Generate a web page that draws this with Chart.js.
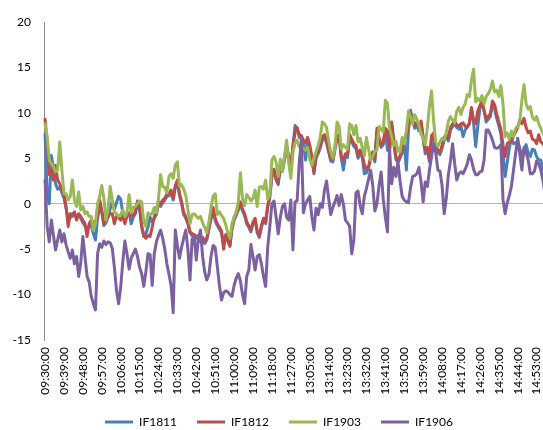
<!DOCTYPE html>
<html><head><meta charset="utf-8">
<script src="https://cdn.jsdelivr.net/npm/chart.js@4.4.0/dist/chart.umd.min.js"></script>
<style>
html,body{margin:0;padding:0;background:#fff;overflow:hidden;width:543px;height:430px;}
#wrap{position:absolute;left:0;top:0;width:558px;height:438px;}
</style></head><body>
<div id="wrap"><canvas id="c" width="558" height="438"></canvas></div>
<script>
const seriesNames = ['IF1811', 'IF1812', 'IF1903', 'IF1906'];
const seriesColors = ['#4A7EBB', '#BE4B48', '#98B954', '#7D60A0'];
const yMin = -15, yMax = 20, yStep = 5;
const labelEvery = 9;
const sessions = [['09:30', '11:30'], ['13:00', '15:00']];

function buildTimes() {
  const out = [];
  for (const [a, b] of sessions) {
    let [h, m] = a.split(':').map(Number);
    const [eh, em] = b.split(':').map(Number);
    while (h * 60 + m <= eh * 60 + em) {
      out.push(String(h).padStart(2, '0') + ':' + String(m).padStart(2, '0') + ':00');
      m++; if (m === 60) { m = 0; h++; }
    }
  }
  return out;
}
const times = buildTimes();

const if1811 = [
 7.7, 1.0, 0.0, 5.3, 3.9, 2.2, 1.6, 1.8, 1.2, 0.6,
 -0.5, -1.8, -1.5, -1.4, -1.1, -1.6, -1.2, -1.6, -2.1, -2.4,
 -2.8, -2.5, -2.4, -3.3, -4.0, -1.6, -0.3, -0.9, -2.4, -2.1,
 -1.5, -0.6, 0.3, -0.6, 0.1, 0.8, 0.5, -1.0, -1.8, -1.3,
 -1.0, -2.2, -1.5, -1.1, 0.0, -0.6, -2.6, -3.6, -3.3, -2.6,
 -1.5, -2.0, -1.6, -1.2, 0.0, -0.3, 0.1, 0.4, 0.8, 0.9,
 1.2, 0.4, 1.8, 2.4, 0.9, 0.0, -1.2, -1.6, -2.2, -3.2,
 -3.5, -3.6, -3.8, -3.7, -4.2, -3.9, -4.4, -4.0, -2.8, -1.7,
 -0.7, -1.9, -2.4, -2.8, -3.2, -4.6, -3.6, -4.1, -4.7, -2.8,
 -1.8, -1.3, -0.7, 0.0, -0.8, -1.3, -2.2, -2.6, -3.1, -2.2,
 -1.8, -3.2, -3.7, -2.6, -1.8, -2.2, -0.4, 0.7, 3.0, 3.6,
 2.6, 2.1, 4.0, 3.6, 4.8, 6.3, 4.8, 4.0, 6.2, 8.6,
 8.3, 7.3, 7.2, 6.6, 4.8, 7.0, 6.2, 5.0, 3.3, 5.0,
 5.5, 6.1, 7.0, 7.3, 6.7, 5.7, 4.7, 4.6, 5.9, 7.2,
 7.3, 5.0, 3.7, 5.2, 5.1, 7.3, 6.8, 6.3, 6.1, 5.0,
 5.6, 5.1, 3.3, 3.4, 3.9, 4.9, 5.4, 4.6, 8.0, 7.0,
 6.2, 6.5, 8.0, 5.9, 5.7, 8.7, 6.7, 4.9, 4.5, 5.0,
 5.6, 6.6, 3.7, 8.1, 10.3, 9.1, 8.3, 8.7, 8.0, 8.8,
 7.1, 5.5, 5.9, 4.6, 7.2, 7.5, 6.0, 5.6, 5.4, 6.1,
 7.0, 7.3, 6.9, 8.1, 8.5, 8.8, 8.4, 8.2, 8.5, 7.4,
 8.1, 8.5, 8.8, 10.4, 8.9, 6.3, 8.5, 10.5, 11.0, 10.2,
 9.0, 9.3, 9.6, 11.0, 10.4, 9.4, 8.6, 7.7, 5.5, 3.0,
 4.5, 6.1, 7.2, 6.6, 6.7, 6.9, 6.1, 5.2, 5.9, 6.5,
 5.6, 5.2, 6.0, 5.9, 5.2, 4.8, 4.8, 3.9, 3.2, 3.0,
 3.2, 3.4
];

const if1812 = [
 9.3, 6.8, 3.2, 3.7, 2.6, 4.2, 2.6, 2.2, 1.5, 1.1,
 -0.3, -2.5, -1.1, -1.2, -0.9, -1.8, -1.1, -1.4, -1.8, -2.2,
 -3.6, -2.2, -1.8, -2.2, -1.9, -1.4, 0.4, -0.7, -2.2, -1.8,
 -1.4, -1.1, -1.1, -2.2, -1.4, -1.5, -1.8, -1.4, -2.2, -1.4,
 -1.1, -1.3, -1.2, -0.9, 0.3, -0.3, -2.4, -3.5, -3.8, -3.5,
 -3.6, -2.6, -1.4, -1.0, 0.2, 0.0, 0.4, 0.6, 1.1, 1.1,
 1.5, 0.6, 2.0, 2.6, 1.1, 0.2, -1.0, -1.4, -2.0, -3.1,
 -3.3, -3.4, -3.6, -3.5, -4.0, -3.7, -4.1, -3.8, -2.6, -1.5,
 -0.4, -1.6, -2.2, -2.6, -3.0, -5.0, -3.4, -4.0, -4.6, -2.6,
 -1.5, -1.1, -0.5, 0.2, -0.6, -1.1, -2.0, -2.4, -2.9, -2.0,
 -1.6, -3.0, -3.5, -2.4, -1.6, -2.0, -0.2, 0.9, 3.3, 3.8,
 2.8, 2.3, 4.2, 3.8, 5.0, 6.5, 5.0, 4.2, 6.4, 7.8,
 8.4, 7.6, 7.5, 7.0, 6.7, 7.3, 6.5, 5.2, 3.5, 5.3,
 5.8, 6.4, 7.3, 7.6, 7.0, 5.9, 5.0, 4.9, 6.2, 7.5,
 7.6, 5.3, 4.8, 5.5, 5.4, 7.6, 7.1, 6.6, 6.4, 5.3,
 5.9, 5.4, 4.3, 3.8, 4.1, 5.2, 5.7, 4.9, 8.3, 7.3,
 6.5, 6.8, 8.3, 8.0, 6.0, 9.0, 7.0, 5.2, 4.8, 5.3,
 5.9, 7.0, 7.6, 8.4, 9.9, 9.4, 8.6, 9.0, 8.3, 9.1,
 7.4, 5.9, 6.2, 4.9, 7.5, 7.8, 6.3, 5.9, 5.7, 6.4,
 7.3, 7.6, 7.2, 8.4, 8.8, 9.1, 8.7, 8.5, 8.8, 8.9,
 8.5, 8.4, 8.9, 10.6, 9.2, 8.8, 10.2, 10.8, 11.3, 10.3,
 9.3, 9.6, 9.9, 11.3, 10.9, 9.9, 9.0, 8.2, 6.5, 5.2,
 6.6, 6.8, 7.0, 7.4, 7.9, 8.4, 9.2, 8.8, 9.4, 8.4,
 7.8, 8.0, 7.1, 7.0, 6.6, 7.6, 6.8, 6.6, 6.3, 6.2,
 6.0, 6.1
];

const if1903 = [
 8.8, 7.4, 4.8, 4.4, 4.1, 3.5, 3.7, 6.8, 3.7, 1.1,
 1.1, 0.4, 0.8, 2.6, 0.4, -0.3, 1.3, -0.7, -0.3, -1.1,
 -0.9, -1.4, -1.4, -2.9, -2.2, 0.0, 0.8, 2.0, 0.6, -1.8,
 -0.5, 1.9, 0.4, -0.9, -1.1, -1.4, -1.2, -0.7, -1.4, -1.0,
 1.0, -1.0, -0.4, -0.3, 0.0, 0.3, 0.2, -2.0, -2.5, -1.0,
 -1.2, -1.1, -0.4, -1.0, 0.6, 3.2, 1.9, 1.8, 1.2, 3.0,
 3.3, 2.8, 4.3, 4.6, 1.9, 2.1, 1.6, 0.9, -0.6, -2.2,
 -1.2, -1.1, -1.4, -1.6, -1.4, -2.1, -2.6, -3.2, -2.0, -0.4,
 0.8, 1.1, -1.2, -0.9, -1.3, -1.6, -2.3, -3.2, -3.8, -2.2,
 -1.5, -0.9, 0.2, 3.4, 0.5, -0.2, 1.0, 0.7, 0.3, 0.6,
 1.5, -0.3, 1.8, 1.9, 1.6, 2.6, 0.5, 1.0, 4.8, 5.2,
 4.6, 3.0, 4.9, 3.5, 5.2, 7.0, 4.5, 2.8, 5.6, 6.7,
 7.0, 6.3, 6.0, 6.1, 5.9, 6.2, 4.9, 4.2, 5.0, 5.7,
 6.4, 7.3, 9.0, 8.8, 8.4, 6.9, 5.7, 5.0, 6.2, 9.0,
 8.5, 6.0, 6.5, 6.2, 6.0, 8.8, 8.6, 7.6, 8.6, 6.8,
 7.2, 6.2, 5.3, 7.3, 6.0, 4.8, 5.2, 5.8, 5.9, 8.5,
 8.2, 7.9, 11.4, 11.0, 8.3, 7.4, 6.4, 6.9, 5.8, 5.7,
 7.3, 6.6, 8.0, 10.2, 9.6, 8.8, 9.8, 9.3, 8.6, 7.7,
 7.2, 6.5, 8.4, 10.8, 12.4, 9.0, 6.7, 6.3, 6.8, 7.2,
 7.0, 7.8, 9.1, 9.6, 9.2, 8.9, 10.2, 10.6, 9.8, 10.6,
 11.0, 12.0, 11.8, 13.6, 14.8, 11.2, 11.6, 11.3, 11.9, 11.0,
 11.8, 12.1, 12.6, 13.5, 12.3, 12.5, 11.8, 13.0, 11.0, 7.4,
 7.8, 7.1, 8.0, 7.4, 8.3, 8.5, 9.1, 11.4, 13.1, 11.0,
 10.4, 10.7, 9.5, 9.2, 9.6, 8.8, 8.3, 7.8, 7.4, 7.2,
 7.0, 6.8
];

const if1906 = [
 2.6, -2.5, -4.2, -1.8, -3.5, -5.1, -4.0, -2.9, -4.2, -3.3,
 -4.5, -5.3, -6.0, -5.1, -6.6, -5.8, -8.0, -6.5, -3.6, -5.8,
 -8.0, -8.6, -10.2, -11.0, -11.7, -5.5, -4.4, -4.8, -4.1, -4.5,
 -4.2, -4.3, -4.9, -7.0, -9.5, -11.0, -9.2, -6.4, -4.1, -5.5,
 -7.2, -6.0, -5.5, -5.0, -5.8, -7.0, -7.7, -9.1, -7.5, -5.5,
 -5.6, -9.0, -5.5, -4.2, -3.5, -2.9, -3.8, -5.0, -6.6, -7.8,
 -9.0, -12.0, -2.9, -4.6, -6.0, -4.8, -3.8, -2.9, -5.0, -8.4,
 -3.9, -3.6, -6.2, -3.8, -2.9, -5.8, -7.5, -8.4, -7.8, -5.8,
 -4.6, -4.8, -6.9, -9.0, -10.6, -9.8, -9.6, -9.7, -10.0, -10.2,
 -9.0, -8.2, -7.7, -8.5, -10.0, -11.0, -8.0, -7.3, -4.5, -5.8,
 -7.3, -5.8, -5.6, -6.6, -8.0, -9.1, -4.8, -2.5, 0.0, 0.3,
 -1.5, -3.3, -1.5, -0.3, 0.0, -1.5, -1.8, 0.4, -5.1, 0.2,
 0.3, 4.5, 7.0, -1.0, 0.0, 0.4, 0.8, -1.4, -2.9, -0.5,
 -1.2, 0.0, -0.4, 1.5, 2.5, 0.6, -1.2, -0.4, 0.2, 0.9,
 -0.2, 1.0, 0.0, -1.8, -2.1, -2.5, -5.5, -4.0, 1.2, 1.4,
 -0.2, -1.1, 0.8, 1.7, 2.7, 3.7, 2.0, -0.8, 0.0, 2.0,
 3.5, 0.5, -1.5, -3.1, 6.0, 2.2, 4.0, 3.0, 4.6, 2.5,
 0.8, 0.4, 0.2, 0.1, 1.8, 3.0, 3.1, 3.3, 4.0, 2.4,
 0.2, 2.4, 1.9, 3.7, 5.2, 6.6, 5.6, 3.7, 3.6, 2.0,
 -1.1, 0.6, 3.2, 4.7, 6.6, 4.4, 2.6, 3.3, 3.5, 3.3,
 3.8, 4.4, 5.4, 4.8, 3.8, 3.2, 3.2, 3.5, 3.6, 4.8,
 8.1, 8.1, 7.6, 7.0, 6.2, 6.1, 6.2, 6.5, 0.5, -1.1,
 0.1, 0.9, 1.9, 3.7, 5.5, 7.2, 5.5, 3.7, 6.2, 5.6,
 4.8, 3.3, 3.3, 3.6, 4.7, 4.4, 3.7, 2.6, 1.0, 0.0,
 0.5, 0.8
];

const seriesValues = [if1811, if1812, if1903, if1906];
const FONT = "Lato, 'Liberation Sans', sans-serif";

const datasets = seriesNames.map((name, k) => ({
  label: name,
  data: seriesValues[k],
  borderColor: seriesColors[k],
  backgroundColor: seriesColors[k],
  borderWidth: 3,
  pointRadius: 0,
  tension: 0,
  fill: false,
  borderJoinStyle: 'round',
  borderCapStyle: 'round',
  order: seriesNames.length - k
}));

new Chart(document.getElementById('c'), {
  type: 'line',
  data: { labels: times, datasets: datasets },
  options: {
    responsive: false,
    animation: false,
    devicePixelRatio: 1,
    events: [],
    layout: { padding: { top: 22, left: 0, right: 0, bottom: 0 } },
    scales: {
      x: {
        type: 'category',
        offset: true,
        grid: { display: false, drawTicks: false },
        border: { display: false },
        ticks: {
          autoSkip: false, minRotation: 90, maxRotation: 90, padding: 7,
          color: '#000', font: { family: FONT, size: 12 },
          callback: (v, i) => (i % labelEvery === 0 ? times[i] : null)
        },
        afterFit: (s) => { s.height = 56; }
      },
      y: {
        min: yMin, max: yMax,
        ticks: { stepSize: yStep, padding: 13, color: '#000', font: { family: FONT, size: 12 } },
        grid: {
          drawTicks: false,
          color: (c) => (c.tick && c.tick.value === 0 ? '#b4b4b4' : 'rgba(0,0,0,0)'),
          lineWidth: 1
        },
        border: { display: true, color: '#8c8c8c', width: 1 },
        afterFit: (s) => { s.width = 44; }
      }
    },
    plugins: {
      tooltip: { enabled: false },
      legend: {
        position: 'bottom',
        labels: {
          boxWidth: 28, boxHeight: 3, padding: 20, color: '#000',
          font: { family: FONT, size: 12 },
          sort: (a, b) => a.datasetIndex - b.datasetIndex,
          generateLabels: (chart) => {
            const items = Chart.defaults.plugins.legend.labels.generateLabels(chart);
            items.forEach(it => { it.lineWidth = 0; it.fillStyle = it.strokeStyle; });
            return items;
          }
        }
      }
    }
  }
});
</script>
</body></html>
